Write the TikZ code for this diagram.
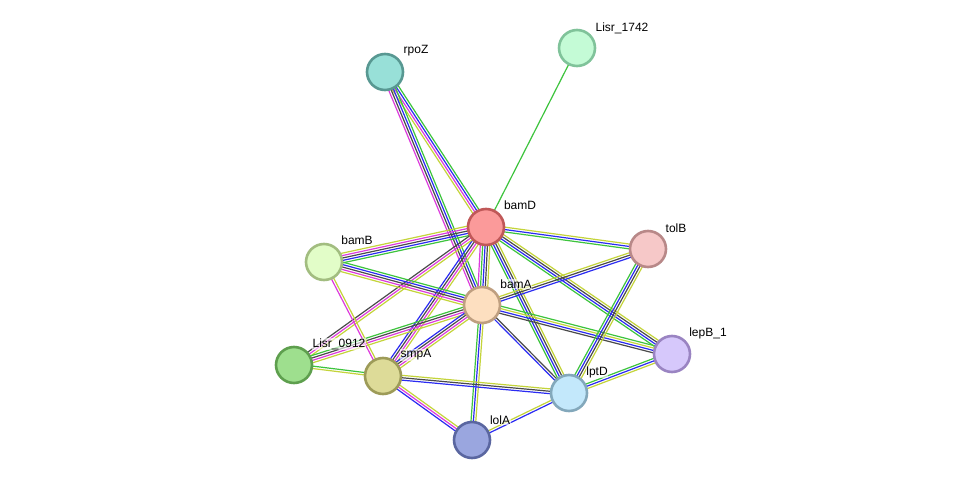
\documentclass[tikz,border=0pt]{standalone}
\usepackage{fontspec}
\setmainfont{Liberation Sans}
\usetikzlibrary{calc}
\pgfdeclarelayer{back}
\pgfdeclarelayer{bg}
\pgfsetlayers{back,bg,main}
\definecolor{eG}{HTML}{3DC43D}
\definecolor{eB}{HTML}{2B2BF2}
\definecolor{eM}{HTML}{DD3BDD}
\definecolor{eK}{HTML}{4A4A4A}
\definecolor{eY}{HTML}{C4D43A}
\tikzset{
  pnode/.style={circle, minimum size=36pt, inner sep=0pt, line width=2.6pt},
  lab/.style={font=\fontsize{12}{14}\selectfont, inner sep=0.6pt, fill=white, fill opacity=0.6, text opacity=1},
  elink/.style={line width=1.2pt}
}
\newcommand\sedge[3]{%
  \def\nn{0}%
  \foreach \x in {#3}{\pgfmathtruncatemacro\tmp{\nn+1}\global\let\nn\tmp}%
  \begin{pgfonlayer}{bg}
  \foreach \cc [count=\i] in {#3}{%
    \pgfmathsetmacro\off{(\i-(\nn+1)/2)*2.4}%
    \draw[elink,color=\cc] ($(#1)!\off pt!90:(#2)$) -- ($(#2)!\off pt!-90:(#1)$);
  }
  \end{pgfonlayer}}
\begin{document}
\begin{tikzpicture}[x=1pt,y=-1pt]
\begin{pgfonlayer}{back}
\fill[white] (0,0) rectangle (976,487);
\end{pgfonlayer}
\useasboundingbox (0,0) rectangle (976,487);
% nodes
\node[pnode, fill={rgb,255:red,152;green,224;blue,216}, draw={rgb,255:red,88;green,152;blue,146}] (rpoZ) at (385,72) {};
\node[pnode, fill={rgb,255:red,196;green,251;blue,214}, draw={rgb,255:red,128;green,195;blue,154}] (L1742) at (577,48) {};
\node[pnode, fill={rgb,255:red,251;green,154;blue,154}, draw={rgb,255:red,192;green,88;blue,88}] (bamD) at (486,227) {};
\node[pnode, fill={rgb,255:red,246;green,200;blue,200}, draw={rgb,255:red,184;green,136;blue,136}] (tolB) at (648,249) {};
\node[pnode, fill={rgb,255:red,226;green,253;blue,200}, draw={rgb,255:red,162;green,189;blue,128}] (bamB) at (324,262) {};
\node[pnode, fill={rgb,255:red,253;green,223;blue,192}, draw={rgb,255:red,191;green,159;blue,128}] (bamA) at (482,305) {};
\node[pnode, fill={rgb,255:red,214;green,200;blue,251}, draw={rgb,255:red,154;green,132;blue,194}] (lepB) at (672,354) {};
\node[pnode, fill={rgb,255:red,158;green,223;blue,142}, draw={rgb,255:red,94;green,159;blue,78}] (L0912) at (294,365) {};
\node[pnode, fill={rgb,255:red,221;green,219;blue,152}, draw={rgb,255:red,157;green,155;blue,88}] (smpA) at (383,376) {};
\node[pnode, fill={rgb,255:red,195;green,232;blue,251}, draw={rgb,255:red,131;green,168;blue,187}] (lptD) at (569,393) {};
\node[pnode, fill={rgb,255:red,154;green,166;blue,223}, draw={rgb,255:red,90;green,102;blue,160}] (lolA) at (472,440) {};
% labels
\node[lab] (trpoZ) at (416,51) {rpoZ};
\node[lab] (tL1742) at (622,28) {Lisr\_1742};
\node[lab] (tbamD) at (520,205) {bamD};
\node[lab] (ttolB) at (676,228) {tolB};
\node[lab] (tbamB) at (357,240) {bamB};
\node[lab] (tbamA) at (516,284) {bamA};
\node[lab] (tlepB) at (708,333) {lepB\_1};
\node[lab] (tL0912) at (339,344) {Lisr\_0912};
\node[lab] (tsmpA) at (416,355) {smpA};
\node[lab] (tlptD) at (597,372) {lptD};
\node[lab] (tlolA) at (500,420) {lolA};
% edges
\sedge{rpoZ}{bamD}{eY,eM,eB,eG}
\sedge{rpoZ}{bamA}{eM,eK,eB,eG}
\sedge{L1742}{bamD}{eG}
\sedge{bamD}{tolB}{eG,eB,eY}
\sedge{bamD}{bamB}{eY,eM,eK,eB,eG}
\sedge{bamD}{bamA}{eM,eG,eB,eK,eY}
\sedge{bamD}{lepB}{eG,eB,eK,eY}
\sedge{bamD}{lptD}{eG,eB,eK,eY}
\sedge{bamD}{smpA}{eB,eK,eM,eY}
\sedge{bamD}{L0912}{eK,eM,eY}
\sedge{bamA}{lolA}{eG,eB,eY}
\sedge{bamA}{tolB}{eB,eK,eY}
\sedge{bamA}{bamB}{eG,eB,eK,eM,eY}
\sedge{bamA}{L0912}{eG,eK,eM,eY}
\sedge{bamA}{smpA}{eB,eK,eM,eY}
\sedge{bamA}{lepB}{eK,eB,eY,eG}
\sedge{bamA}{lptD}{eB,eK}
\sedge{bamB}{smpA}{eM,eY}
\sedge{L0912}{smpA}{eY,eG}
\sedge{smpA}{lptD}{eB,eK,eY}
\sedge{smpA}{lolA}{eB,eM,eY}
\sedge{lptD}{lolA}{eY,eB}
\sedge{lptD}{lepB}{eY,eB,eG}
\sedge{tolB}{lptD}{eG,eB,eK,eY}
\end{tikzpicture}
\end{document}
